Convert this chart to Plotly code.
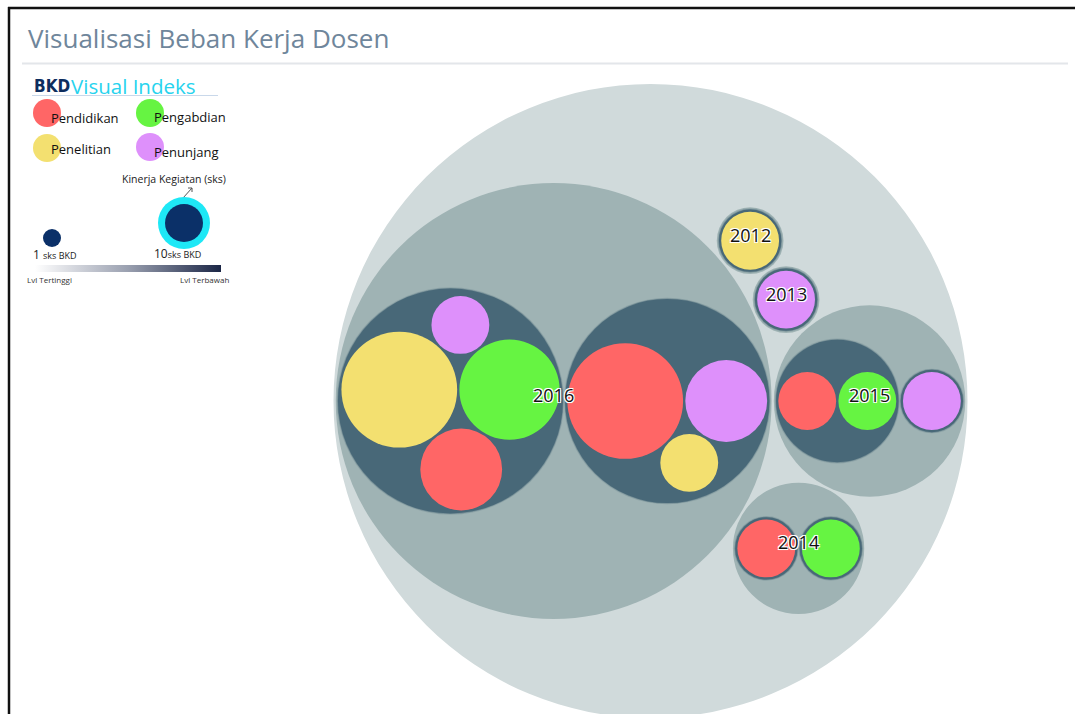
import math
import plotly.graph_objects as go

# ---------------- data ----------------
years = ["2016", "2015", "2014", "2013", "2012"]
categories = ["Pendidikan", "Pengabdian", "Penelitian", "Penunjang"]
# every leaf: year, semester group, category, sks
leaf_year = ["2012", "2013", "2014", "2014", "2015", "2015", "2015",
             "2016", "2016", "2016", "2016", "2016", "2016", "2016"]
leaf_group = ["I", "I", "I", "II", "I", "I", "II",
              "I", "I", "I", "I", "II", "II", "II"]
leaf_cat = ["Penelitian", "Penunjang", "Pendidikan", "Pengabdian",
            "Pendidikan", "Pengabdian", "Penunjang",
            "Pendidikan", "Pengabdian", "Penelitian", "Penunjang",
            "Pendidikan", "Penelitian", "Penunjang"]
leaf_sks = [1, 1, 1, 1, 1, 1, 1, 2, 3, 4, 1, 4, 1, 2]

# ---------------- styles ----------------
cat_colors = {"Pendidikan": "#ff6666", "Pengabdian": "#66f442",
              "Penelitian": "#f3e070", "Penunjang": "#de90fb"}
depth_colors = ["#d0dadb", "#9fb3b4", "#486878"]
PACK_SIZE = 634
PACK_CX, PACK_CY = 650.5, 401
PADDING = 2.4

# ---------------- hierarchy ----------------
def new_node(name, depth, cat=None, value=0):
    return {"name": name, "depth": depth, "cat": cat, "value": value,
            "children": [], "x": 0.0, "y": 0.0, "r": 0.0}

root = new_node("root", 0)
year_nodes = {}
for y in years:
    year_nodes[y] = new_node(y, 1)
    root["children"].append(year_nodes[y])
group_nodes = {}
for y, g, c, v in zip(leaf_year, leaf_group, leaf_cat, leaf_sks):
    key = (y, g)
    if key not in group_nodes:
        group_nodes[key] = new_node(g, 2)
        year_nodes[y]["children"].append(group_nodes[key])
    group_nodes[key]["children"].append(new_node(c, 3, c, v))


def sum_values(n):
    if n["children"]:
        n["value"] = sum(sum_values(ch) for ch in n["children"])
    return n["value"]


def sort_tree(n):
    n["children"].sort(key=lambda ch: -ch["value"])
    for ch in n["children"]:
        sort_tree(ch)


sum_values(root)
sort_tree(root)

# ---------------- circle packing (d3-hierarchy pack) ----------------
class FNode:
    def __init__(self, c):
        self.c = c
        self.next = None
        self.prev = None


def place(b, a, c):
    dx = b["x"] - a["x"]
    dy = b["y"] - a["y"]
    d2 = dx * dx + dy * dy
    if d2:
        a2 = (a["r"] + c["r"]) ** 2
        b2 = (b["r"] + c["r"]) ** 2
        if a2 > b2:
            x = (d2 + b2 - a2) / (2 * d2)
            y = math.sqrt(max(0, b2 / d2 - x * x))
            c["x"] = b["x"] - x * dx - y * dy
            c["y"] = b["y"] - x * dy + y * dx
        else:
            x = (d2 + a2 - b2) / (2 * d2)
            y = math.sqrt(max(0, a2 / d2 - x * x))
            c["x"] = a["x"] + x * dx - y * dy
            c["y"] = a["y"] + x * dy + y * dx
    else:
        c["x"] = a["x"] + c["r"]
        c["y"] = a["y"]


def intersects(a, b):
    dr = a["r"] + b["r"] - 1e-6
    dx = b["x"] - a["x"]
    dy = b["y"] - a["y"]
    return dr > 0 and dr * dr > dx * dx + dy * dy


def score(node):
    a = node.c
    b = node.next.c
    ab = a["r"] + b["r"]
    dx = (a["x"] * b["r"] + b["x"] * a["r"]) / ab
    dy = (a["y"] * b["r"] + b["y"] * a["r"]) / ab
    return dx * dx + dy * dy


def basis2(a, b):
    x1, y1, r1 = a["x"], a["y"], a["r"]
    x2, y2, r2 = b["x"], b["y"], b["r"]
    x21, y21, r21 = x2 - x1, y2 - y1, r2 - r1
    l = math.sqrt(x21 * x21 + y21 * y21)
    if l == 0:
        return (x1, y1, max(r1, r2))
    return ((x1 + x2 + x21 / l * r21) / 2, (y1 + y2 + y21 / l * r21) / 2, (l + r1 + r2) / 2)


def basis3(a, b, c):
    x1, y1, r1 = a["x"], a["y"], a["r"]
    x2, y2, r2 = b["x"], b["y"], b["r"]
    x3, y3, r3 = c["x"], c["y"], c["r"]
    a2 = x1 - x2
    a3 = x1 - x3
    b2 = y1 - y2
    b3 = y1 - y3
    c2 = r2 - r1
    c3 = r3 - r1
    d1 = x1 * x1 + y1 * y1 - r1 * r1
    d2 = d1 - x2 * x2 - y2 * y2 + r2 * r2
    d3 = d1 - x3 * x3 - y3 * y3 + r3 * r3
    ab = a3 * b2 - a2 * b3
    if abs(ab) < 1e-12:
        return None
    xa = (b2 * d3 - b3 * d2) / (ab * 2) - x1
    xb = (b3 * c2 - b2 * c3) / ab
    ya = (a3 * d2 - a2 * d3) / (ab * 2) - y1
    yb = (a2 * c3 - a3 * c2) / ab
    A = xb * xb + yb * yb - 1
    B = 2 * (r1 + xa * xb + ya * yb)
    C = xa * xa + ya * ya - r1 * r1
    if abs(A) > 1e-6:
        disc = B * B - 4 * A * C
        if disc < 0:
            return None
        r = -(B + math.sqrt(disc)) / (2 * A)
    else:
        r = -(C / B)
    return (x1 + xa + xb * r, y1 + ya + yb * r, r)


def enclose(circles):
    cands = [(c["x"], c["y"], c["r"]) for c in circles]
    n = len(circles)
    for i in range(n):
        for j in range(i + 1, n):
            cands.append(basis2(circles[i], circles[j]))
            for k in range(j + 1, n):
                e = basis3(circles[i], circles[j], circles[k])
                if e is not None and all(math.isfinite(v) for v in e):
                    cands.append(e)

    def ok(e):
        if e[2] <= 0:
            return False
        for c in circles:
            if math.hypot(c["x"] - e[0], c["y"] - e[1]) + c["r"] > e[2] + 1e-7 * max(1, e[2]):
                return False
        return True

    return min((e for e in cands if ok(e)), key=lambda e: e[2])


def pack_siblings(circles):
    n = len(circles)
    if n == 0:
        return 0
    a = circles[0]
    a["x"] = 0.0
    a["y"] = 0.0
    if n == 1:
        return a["r"]
    b = circles[1]
    a["x"] = -b["r"]
    b["x"] = a["r"]
    b["y"] = 0.0
    if n == 2:
        return a["r"] + b["r"]
    place(b, a, circles[2])
    a, b, c = FNode(a), FNode(b), FNode(circles[2])
    a.next = c.prev = b
    b.next = a.prev = c
    c.next = b.prev = a
    i = 3
    while i < n:
        cc = circles[i]
        place(a.c, b.c, cc)
        c = FNode(cc)
        j, k = b.next, a.prev
        sj, sk = b.c["r"], a.c["r"]
        restart = False
        while True:
            if sj <= sk:
                if intersects(j.c, c.c):
                    b = j
                    a.next = b
                    b.prev = a
                    restart = True
                    break
                sj += j.c["r"]
                j = j.next
            else:
                if intersects(k.c, c.c):
                    a = k
                    a.next = b
                    b.prev = a
                    restart = True
                    break
                sk += k.c["r"]
                k = k.prev
            if j is k.next:
                break
        if restart:
            continue
        c.prev = a
        c.next = b
        a.next = c
        b.prev = c
        b = c
        aa = score(a)
        c = c.next
        while c is not b:
            ca = score(c)
            if ca < aa:
                a = c
                aa = ca
            c = c.next
        b = a.next
        i += 1
    chain = [b.c]
    c = b.next
    while c is not b:
        chain.append(c.c)
        c = c.next
    e = enclose(chain)
    for cc in circles:
        cc["x"] -= e[0]
        cc["y"] -= e[1]
    return e[2]


def init_radius(n):
    if not n["children"]:
        n["r"] = math.sqrt(n["value"])
    for ch in n["children"]:
        init_radius(ch)


def pack_children(n, pad):
    for ch in n["children"]:
        pack_children(ch, pad)
    if n["children"]:
        for ch in n["children"]:
            ch["r"] += pad
        e = pack_siblings(n["children"])
        for ch in n["children"]:
            ch["r"] -= pad
        n["r"] = e + pad


def translate(n, k, parent=None):
    n["r"] *= k
    if parent is not None:
        n["x"] = parent["x"] + k * n["x"]
        n["y"] = parent["y"] + k * n["y"]
    for ch in n["children"]:
        translate(ch, k, n)


init_radius(root)
pack_children(root, 0)
kpad = root["r"] / PACK_SIZE
pack_children(root, PADDING * kpad)
root["x"], root["y"] = PACK_CX, PACK_CY
translate(root, PACK_SIZE / (2 * root["r"]))

# ---------------- figure ----------------
shapes = []
annotations = []


def circle(cx, cy, r, fill, line_color=None, line_width=0, opacity=1):
    return dict(type="circle", xref="x", yref="y",
                x0=cx - r, x1=cx + r, y0=cy - r, y1=cy + r,
                fillcolor=fill, opacity=opacity,
                line=dict(color=line_color or "rgba(0,0,0,0)", width=line_width))


def draw(n):
    if n["children"]:
        if n["depth"] == 2:
            # soft, slightly blurred edge of the semester circles
            shapes.append(circle(n["x"], n["y"], n["r"] + 1.2, "rgba(72,104,120,0.22)"))
            shapes.append(circle(n["x"], n["y"], n["r"] + 0.5, "rgba(72,104,120,0.4)"))
        shapes.append(circle(n["x"], n["y"], n["r"], depth_colors[n["depth"]]))
    else:
        shapes.append(circle(n["x"], n["y"], n["r"], cat_colors[n["cat"]]))
    for ch in n["children"]:
        draw(ch)


draw(root)

label_shadow = ("-1px -1px 0 #fff, 1px -1px 0 #fff, -1px 1px 0 #fff, 1px 1px 0 #fff, "
                "0 0 2px #fff")
for y in years:
    yn = year_nodes[y]
    annotations.append(dict(x=yn["x"], y=yn["y"], xref="x", yref="y", text=y,
                            showarrow=False, xanchor="center", yanchor="middle", yshift=6,
                            font=dict(family="Open Sans, sans-serif", size=18, color="#111111",
                                      shadow=label_shadow)))

# frame, title and divider
shapes.append(dict(type="line", xref="x", yref="y", x0=8, x1=1075, y0=8, y1=8,
                   line=dict(color="#111111", width=2.5)))
shapes.append(dict(type="line", xref="x", yref="y", x0=9, x1=9, y0=7, y1=714,
                   line=dict(color="#111111", width=2.5)))
shapes.append(dict(type="line", xref="x", yref="y", x0=22, x1=1068, y0=63.5, y1=63.5,
                   line=dict(color="#e3e6ea", width=2)))
annotations.append(dict(x=26, y=38, xref="x", yref="y", text="Visualisasi Beban Kerja Dosen",
                        showarrow=False, xanchor="left", yanchor="middle",
                        font=dict(family="Open Sans, sans-serif", size=26, color="#6f869b")))

# legend block
annotations.append(dict(x=32, y=86, xref="x", yref="y", text="<b>BKD</b>", showarrow=False,
                        xanchor="left", yanchor="middle",
                        font=dict(family="DejaVu Sans Condensed, sans-serif",
                                  size=17, color="#0d2d5e")))
annotations.append(dict(x=69, y=86, xref="x", yref="y", text="Visual Indeks", showarrow=False,
                        xanchor="left", yanchor="middle",
                        font=dict(family="Open Sans, sans-serif", size=20.5, color="#27d3ee")))
shapes.append(dict(type="line", xref="x", yref="y", x0=32, x1=218, y0=95.5, y1=95.5,
                   line=dict(color="#c9d8ea", width=1)))

legend_cx = [47, 150, 47, 150]
legend_cy = [113, 113, 148, 147]
legend_tx = [49, 152, 49, 152]
legend_ty = [118, 117, 149, 152]
legend_order = ["Pendidikan", "Pengabdian", "Penelitian", "Penunjang"]
for cat, cx, cy, tx, ty in zip(legend_order, legend_cx, legend_cy, legend_tx, legend_ty):
    shapes.append(circle(cx, cy, 14, cat_colors[cat]))
    annotations.append(dict(x=tx, y=ty, xref="x", yref="y", text=cat, showarrow=False,
                            xanchor="left", yanchor="middle",
                            font=dict(family="Open Sans, sans-serif", size=13, color="#111111")))

annotations.append(dict(x=174, y=179, xref="x", yref="y", text="Kinerja Kegiatan (sks)",
                        showarrow=False, xanchor="center", yanchor="middle",
                        font=dict(family="Open Sans, sans-serif", size=10.5, color="#222222")))
shapes.append(dict(type="line", xref="x", yref="y", x0=183, x1=192, y0=198, y1=188,
                   line=dict(color="#555555", width=1)))
shapes.append(dict(type="line", xref="x", yref="y", x0=188, x1=192, y0=188, y1=188,
                   line=dict(color="#555555", width=1)))
shapes.append(dict(type="line", xref="x", yref="y", x0=192, x1=192, y0=188, y1=192,
                   line=dict(color="#555555", width=1)))
shapes.append(circle(184, 223, 26, "#1ee8f6"))
shapes.append(circle(184, 223, 19, "#0b3068"))
shapes.append(circle(52, 238, 9, "#0b3068"))
annotations.append(dict(x=31, y=254, xref="x", yref="y",
                        text="1 <span style='font-size:9px'>sks BKD</span>",
                        showarrow=False, xanchor="left", yanchor="middle",
                        font=dict(family="Open Sans, sans-serif", size=12, color="#222222")))
annotations.append(dict(x=152, y=253, xref="x", yref="y",
                        text="10<span style='font-size:9px'>sks BKD</span>",
                        showarrow=False, xanchor="left", yanchor="middle",
                        font=dict(family="Open Sans, sans-serif", size=12, color="#222222")))
annotations.append(dict(x=25, y=279, xref="x", yref="y", text="Lvl Tertinggi",
                        showarrow=False, xanchor="left", yanchor="middle",
                        font=dict(family="Open Sans, sans-serif", size=8, color="#333333")))
annotations.append(dict(x=231, y=279, xref="x", yref="y", text="Lvl Terbawah",
                        showarrow=False, xanchor="right", yanchor="middle",
                        font=dict(family="Open Sans, sans-serif", size=8, color="#333333")))

fig = go.Figure()
fig.add_trace(go.Scatter(x=[35, 221, 221, 35, 35], y=[265, 265, 272, 272, 265],
                         mode="lines", fill="toself", line=dict(width=0),
                         fillgradient=dict(type="horizontal",
                                           colorscale=[[0, "#ffffff"], [0.5, "#9aa0b0"], [1, "#1b2646"]]),
                         hoverinfo="skip", showlegend=False))

fig.update_layout(width=1075, height=714, margin=dict(l=0, r=0, t=0, b=0),
                  paper_bgcolor="white", plot_bgcolor="white",
                  xaxis=dict(range=[0, 1075], visible=False, fixedrange=True),
                  yaxis=dict(range=[714, 0], visible=False, fixedrange=True),
                  shapes=shapes, annotations=annotations, showlegend=False)

fig.write_html("out.html", config={"displayModeBar": False},
               post_script="document.body.style.margin='0px';document.body.style.padding='0px';"
                           "document.body.style.overflow='hidden';")
